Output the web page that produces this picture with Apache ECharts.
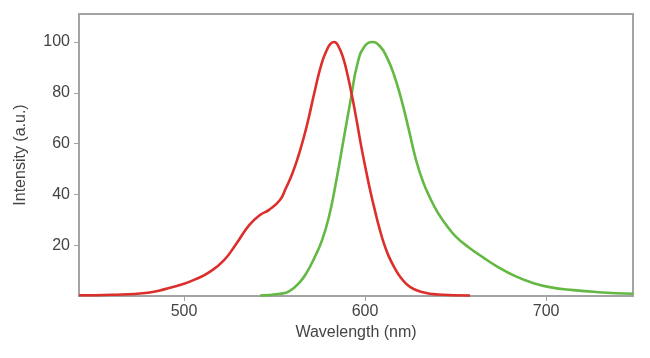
<!DOCTYPE html>
<html>
<head>
<meta charset="utf-8">
<script src="https://cdn.jsdelivr.net/npm/echarts@6/dist/echarts.min.js"></script>
<style>
html,body{margin:0;padding:0;background:#fff;}
#chart{width:650px;height:358px;}
</style>
</head>
<body>
<div id="chart"></div>
<script>
// Excitation (red) spectrum
var redWavelength = [442, 460, 480, 490, 500, 507, 514, 522, 529, 536, 542, 547, 553, 556, 560, 564, 568, 572, 576, 579, 581, 583, 585.5, 588, 590.5, 593, 595.5, 598, 600.5, 603, 605.5, 608, 610.5, 613, 616, 620, 625, 632, 640, 658];
var redIntensity  = [0.3, 0.5, 1.3, 2.8, 4.8, 6.8, 9.4, 14, 20.7, 27.9, 31.9, 33.9, 37.8, 42, 48.5, 57, 67.5, 80, 91.5, 97, 99.3, 100, 98, 93.5, 86.5, 78, 68.5, 58.5, 49.5, 41, 33.5, 26.5, 20.5, 15.8, 11.5, 7, 3.5, 1.5, 0.6, 0.2];
// Emission (green) spectrum
var greenWavelength = [542, 553, 558, 564, 568, 572, 576, 580, 584, 588, 592, 596, 600, 604, 608, 612, 616, 620, 624, 628, 632, 636, 640, 645, 650, 657, 665, 673, 683, 692, 702, 715, 729, 748];
var greenIntensity  = [0.2, 0.9, 1.8, 5.5, 9.5, 15, 21.5, 31, 45, 61, 77, 92, 98.5, 100, 98.5, 94, 87, 77.5, 66, 54, 45, 38.5, 33, 27.8, 23.5, 19.3, 15.3, 11.6, 7.8, 5.3, 3.5, 2.3, 1.5, 0.9];
var xTicks = [500, 600, 700];
var yTicks = [20, 40, 60, 80, 100];
var xTitle = 'Wavelength (nm)';
var yTitle = 'Intensity (a.u.)';

function pairs(xs, ys){ return xs.map(function(x,i){ return [x, ys[i]]; }); }

var axisColor = '#a3a3a3';
var textColor = '#444';
var font = '"Liberation Sans", Arial, sans-serif';

var chart = echarts.init(document.getElementById('chart'), null, {renderer:'canvas'});
chart.setOption({
  animation:false,
  backgroundColor:'#fff',
  grid:{left:79, right:17, top:14, bottom:62, show:true, borderColor:axisColor, borderWidth:2},
  xAxis:{
    type:'value', min:442, max:748,
    name:xTitle, nameLocation:'middle', nameGap:29,
    nameTextStyle:{color:textColor, fontSize:16, fontFamily:font},
    axisLine:{show:true, lineStyle:{color:axisColor, width:2}},
    axisTick:{show:true, length:5, customValues:xTicks, lineStyle:{color:axisColor, width:1}},
    axisLabel:{customValues:xTicks, color:textColor, fontSize:16, fontFamily:font, margin:8},
    splitLine:{show:false}
  },
  yAxis:{
    type:'value', min:0, max:111,
    name:yTitle, nameLocation:'middle', nameGap:50, nameRotate:90,
    nameTextStyle:{color:textColor, fontSize:16, fontFamily:font},
    axisLine:{show:true, lineStyle:{color:axisColor, width:2}},
    axisTick:{show:true, length:5, customValues:yTicks, lineStyle:{color:axisColor, width:1}},
    axisLabel:{customValues:yTicks, color:textColor, fontSize:16, fontFamily:font, margin:9},
    splitLine:{show:false}
  },
  series:[
    {type:'line', data:pairs(redWavelength, redIntensity), showSymbol:false, smooth:0.5,
     lineStyle:{color:'#dc2f2b', width:2.6}, z:3},
    {type:'line', data:pairs(greenWavelength, greenIntensity), showSymbol:false, smooth:0.5,
     lineStyle:{color:'#63b944', width:2.6}, z:2}
  ]
});
</script>
</body>
</html>
